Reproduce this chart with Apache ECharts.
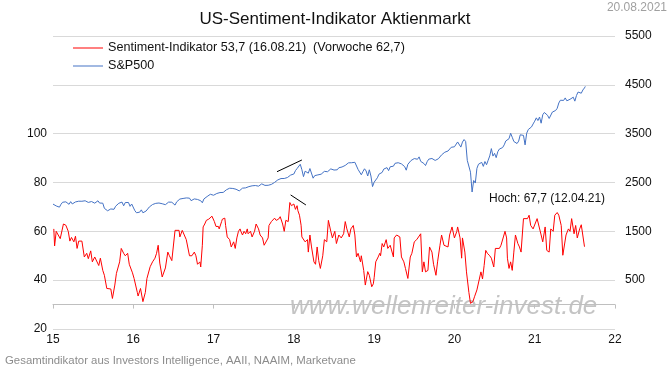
<!DOCTYPE html>
<html>
<head>
<meta charset="utf-8">
<script src="https://cdn.jsdelivr.net/npm/echarts@6/dist/echarts.min.js"></script>
<style>
  html, body { margin: 0; padding: 0; background: #fff; }
  #chart { width: 670px; height: 375px; }
</style>
</head>
<body>
<div id="chart"></div>
<script>
// Jahresachse: 15 ... 22
const yearTicks = [2015, 2016, 2017, 2018, 2019, 2020, 2021, 2022];

// Sentiment-Indikator (Wochenwerte) [Jahr, Wert]
const sentiment = [
  [2015.01,61],[2015.02,54],[2015.04,60],[2015.09,57],[2015.13,63],[2015.16,62.5],[2015.19,60],[2015.21,56],
  [2015.23,57.5],[2015.26,55.7],[2015.28,58],[2015.30,53],[2015.32,56],[2015.36,56],[2015.39,49.5],[2015.42,51],
  [2015.44,48.8],[2015.47,52],[2015.49,47.5],[2015.52,49.5],[2015.54,50.2],[2015.57,46],[2015.59,49],[2015.62,44],
  [2015.64,42],[2015.67,36.6],[2015.69,36],[2015.72,36.4],[2015.74,32.5],[2015.77,38],[2015.79,42.8],[2015.83,47.5],
  [2015.85,53],[2015.88,51],[2015.90,50],[2015.93,51],[2015.95,46.5],[2015.99,43],[2016.01,40.7],[2016.05,35],
  [2016.06,33.5],[2016.09,36.6],[2016.12,31.2],[2016.15,35],[2016.17,40.7],[2016.21,45.5],[2016.24,47.5],[2016.27,49],
  [2016.29,51],[2016.31,54.3],[2016.33,47],[2016.36,41.3],[2016.38,41.8],[2016.40,45],[2016.43,51.5],[2016.45,50],
  [2016.48,48],[2016.50,48.8],[2016.52,60.4],[2016.54,60],[2016.57,60.4],[2016.58,57.7],[2016.61,60.4],[2016.63,61],
  [2016.66,56.6],[2016.68,56],[2016.70,50],[2016.73,50],[2016.76,51.5],[2016.78,50],[2016.80,46.5],[2016.81,46],
  [2016.83,47.5],[2016.84,45.4],[2016.86,54.3],[2016.87,61.8],[2016.89,63],[2016.91,64.5],[2016.94,65],[2016.96,65.8],
  [2016.98,66.2],[2017.01,64],[2017.03,62],[2017.06,62],[2017.07,61],[2017.10,64],[2017.11,65],[2017.14,65.4],
  [2017.15,62.4],[2017.17,57.7],[2017.20,56.6],[2017.22,53.6],[2017.25,55.7],[2017.27,53],[2017.29,57.3],[2017.31,60],
  [2017.33,61],[2017.34,60],[2017.36,58.5],[2017.38,60],[2017.40,59],[2017.42,61],[2017.43,59],[2017.46,60],
  [2017.48,57.7],[2017.51,60],[2017.53,63],[2017.56,61],[2017.58,58.5],[2017.61,57.3],[2017.63,54.3],[2017.65,53.6],
  [2017.68,57.3],[2017.69,62.4],[2017.72,64],[2017.74,64.5],[2017.76,65.4],[2017.78,64.5],[2017.81,65],[2017.83,66],
  [2017.86,63],[2017.88,60],[2017.90,64.5],[2017.93,64],[2017.95,71.8],[2017.97,70.5],[2018.00,71.2],[2018.02,69],
  [2018.04,70.5],[2018.05,68.5],[2018.07,66.6],[2018.09,62.5],[2018.10,57.7],[2018.12,57.3],[2018.14,55.7],[2018.17,56.6],
  [2018.18,51.5],[2018.20,58.5],[2018.22,53.6],[2018.25,47.5],[2018.27,46.5],[2018.29,53.6],[2018.31,48],[2018.33,44.8],
  [2018.36,50],[2018.38,56.6],[2018.41,55.7],[2018.43,64.5],[2018.46,60],[2018.48,57.3],[2018.51,60],[2018.53,55],
  [2018.56,58.5],[2018.59,57.3],[2018.62,59],[2018.64,64],[2018.66,61],[2018.69,57.7],[2018.71,61],[2018.74,62.4],
  [2018.76,58.5],[2018.78,49.5],[2018.80,51],[2018.83,47.5],[2018.84,50],[2018.87,44],[2018.89,38],[2018.92,43.5],
  [2018.94,42],[2018.97,37.3],[2018.99,38.5],[2019.00,41],[2019.02,47.5],[2019.05,49.5],[2019.07,51],[2019.08,50],
  [2019.10,55],[2019.12,53.6],[2019.15,56.6],[2019.17,53],[2019.20,54.3],[2019.22,53.6],[2019.24,49.5],[2019.25,57.3],
  [2019.28,58.5],[2019.30,59],[2019.32,57.7],[2019.34,49.5],[2019.37,47.5],[2019.39,44.8],[2019.42,40.7],[2019.45,49.5],
  [2019.47,51],[2019.49,51],[2019.50,55.7],[2019.53,56.6],[2019.55,57.3],[2019.58,59],[2019.60,43.4],[2019.62,47.5],
  [2019.64,43.4],[2019.67,44],[2019.69,53.6],[2019.72,51.5],[2019.74,46.5],[2019.77,42],[2019.79,47.5],[2019.82,54.3],
  [2019.84,58.5],[2019.87,54.3],[2019.89,55],[2019.92,53.6],[2019.94,58.5],[2019.97,61.8],[2019.98,61],[2020.00,57.3],
  [2020.03,60],[2020.04,61.8],[2020.07,57.3],[2020.09,49],[2020.10,57.3],[2020.13,51.5],[2020.15,43.4],[2020.18,35],
  [2020.20,30.5],[2020.23,31.2],[2020.25,33.2],[2020.28,36],[2020.30,36.6],[2020.33,43.4],[2020.35,40.5],[2020.37,46],
  [2020.39,52.2],[2020.41,51],[2020.44,50],[2020.46,49],[2020.49,45.4],[2020.51,53],[2020.53,53.6],[2020.56,53],
  [2020.58,54.3],[2020.61,57.7],[2020.63,60],[2020.65,57.3],[2020.66,49],[2020.68,44.8],[2020.70,47.5],[2020.72,44],
  [2020.74,51.5],[2020.76,58.5],[2020.79,55],[2020.81,53.6],[2020.83,51.5],[2020.86,65.2],[2020.88,66],[2020.91,65.2],
  [2020.93,66.6],[2020.95,62.4],[2020.98,61],[2021.00,61.8],[2021.03,65.2],[2021.05,65.2],[2021.08,58.5],[2021.10,55.7],
  [2021.13,61.8],[2021.15,52.2],[2021.18,51.5],[2021.20,61],[2021.23,60],[2021.25,66.6],[2021.28,67.7],[2021.30,66.6],
  [2021.33,62.4],[2021.35,50.2],[2021.37,49.5],[2021.39,58.5],[2021.42,61],[2021.44,60],[2021.46,65.2],[2021.49,59],
  [2021.51,62.4],[2021.53,57.3],[2021.56,61],[2021.58,62.7],[2021.62,53.7]
];

// S&P500 [Jahr, Punkte]
const sp500 = [
  [2015.00,2058],[2015.02,2045],[2015.04,2020],[2015.06,2057],[2015.08,1995],[2015.10,2055],[2015.12,2096],[2015.14,2110],
  [2015.16,2104],[2015.18,2071],[2015.20,2053],[2015.22,2108],[2015.24,2061],[2015.26,2067],[2015.28,2102],[2015.30,2081],
  [2015.32,2117],[2015.34,2108],[2015.36,2116],[2015.38,2122],[2015.40,2126],[2015.42,2107],[2015.44,2092],[2015.46,2094],
  [2015.48,2110],[2015.50,2101],[2015.52,2077],[2015.54,2076],[2015.56,2126],[2015.58,2079],[2015.60,2092],[2015.62,2077],
  [2015.64,1971],[2015.66,1989],[2015.68,1921],[2015.70,1961],[2015.72,1958],[2015.74,1931],[2015.76,1951],[2015.78,2014],
  [2015.80,2033],[2015.82,2075],[2015.84,2079],[2015.86,2099],[2015.88,2023],[2015.90,2089],[2015.92,2090],[2015.94,2091],
  [2015.96,2012],[2015.98,2060],[2016.00,2044],
  [2016.02,1922],[2016.04,1880],[2016.06,1906],[2016.08,1893],[2016.10,1940],[2016.12,1880],[2016.14,1864],[2016.16,1917],
  [2016.18,1948],[2016.20,1999],[2016.22,2022],[2016.24,2049],[2016.26,2035],[2016.28,2073],[2016.30,2047],[2016.32,2080],
  [2016.34,2092],[2016.36,2065],[2016.38,2057],[2016.40,2046],[2016.42,2052],[2016.44,2099],[2016.46,2096],[2016.48,2096],
  [2016.50,2071],[2016.52,2037],[2016.54,2103],[2016.56,2130],[2016.58,2161],[2016.60,2175],[2016.62,2173],[2016.64,2182],
  [2016.66,2184],[2016.68,2169],[2016.70,2180],[2016.72,2128],[2016.74,2139],[2016.76,2164],[2016.78,2153],[2016.80,2153],
  [2016.82,2133],[2016.84,2126],[2016.86,2085],[2016.88,2164],[2016.90,2182],[2016.92,2213],[2016.94,2191],[2016.96,2259],
  [2016.98,2263],[2017.00,2239],
  [2017.02,2277],[2017.04,2275],[2017.06,2271],[2017.08,2294],[2017.10,2297],[2017.12,2297],[2017.14,2316],[2017.16,2351],
  [2017.18,2367],[2017.20,2383],[2017.22,2373],[2017.24,2378],[2017.26,2344],[2017.28,2362],[2017.30,2356],[2017.32,2328],
  [2017.34,2349],[2017.36,2384],[2017.38,2399],[2017.40,2390],[2017.42,2381],[2017.44,2416],[2017.46,2439],[2017.48,2432],
  [2017.50,2433],[2017.52,2438],[2017.54,2423],[2017.56,2425],[2017.58,2459],[2017.60,2472],[2017.62,2476],[2017.64,2441],
  [2017.66,2426],[2017.68,2443],[2017.70,2477],[2017.72,2461],[2017.74,2500],[2017.76,2502],[2017.78,2519],[2017.80,2553],
  [2017.82,2575],[2017.84,2581],[2017.86,2587],[2017.88,2582],[2017.90,2579],[2017.92,2602],[2017.94,2642],[2017.96,2652],
  [2017.98,2675],[2018.00,2674],
  [2018.02,2743],[2018.04,2786],[2018.06,2810],[2018.08,2873],[2018.10,2762],[2018.12,2620],[2018.14,2732],[2018.16,2747],
  [2018.18,2691],[2018.20,2786],[2018.22,2752],[2018.24,2588],[2018.26,2641],[2018.28,2604],[2018.30,2656],[2018.32,2670],
  [2018.34,2670],[2018.36,2663],[2018.38,2728],[2018.40,2713],[2018.42,2721],[2018.44,2735],[2018.46,2779],[2018.48,2780],
  [2018.50,2755],[2018.52,2718],[2018.54,2760],[2018.56,2802],[2018.58,2801],[2018.60,2818],[2018.62,2834],[2018.64,2850],
  [2018.66,2875],[2018.68,2902],[2018.70,2872],[2018.72,2905],[2018.74,2930],[2018.76,2914],[2018.78,2885],[2018.80,2767],
  [2018.82,2768],[2018.84,2658],[2018.86,2723],[2018.88,2781],[2018.90,2736],[2018.92,2633],[2018.94,2760],[2018.96,2633],
  [2018.98,2416],[2019.00,2507],
  [2019.02,2532],[2019.04,2596],[2019.06,2670],[2019.08,2665],[2019.10,2707],[2019.12,2775],[2019.14,2792],[2019.16,2804],
  [2019.18,2743],[2019.20,2822],[2019.22,2800],[2019.24,2834],[2019.26,2893],[2019.28,2907],[2019.30,2905],[2019.32,2940],
  [2019.34,2881],[2019.36,2859],[2019.38,2826],[2019.40,2752],[2019.42,2873],[2019.44,2886],[2019.46,2951],[2019.48,2941],
  [2019.50,2990],[2019.52,3014],[2019.54,2976],[2019.56,3025],[2019.58,2932],[2019.60,2918],[2019.62,2889],[2019.64,2847],
  [2019.66,2926],[2019.68,2978],[2019.70,3007],[2019.72,2992],[2019.74,2977],[2019.76,2952],[2019.78,2970],[2019.80,2986],
  [2019.82,3022],[2019.84,3066],[2019.86,3093],[2019.88,3120],[2019.90,3110],[2019.92,3145],[2019.94,3169],[2019.96,3221],
  [2019.98,3240],[2020.00,3231],
  [2020.02,3265],[2020.04,3330],[2020.06,3295],[2020.08,3225],[2020.10,3328],[2020.12,3380],[2020.14,3338],[2020.16,2954],
  [2020.18,2972],[2020.20,2711],[2020.22,2305],[2020.24,2541],[2020.26,2489],[2020.28,2790],[2020.30,2875],[2020.32,2837],
  [2020.34,2912],[2020.36,2830],[2020.38,2930],[2020.40,2864],[2020.42,2955],[2020.44,3044],[2020.46,3194],[2020.48,3041],
  [2020.50,3098],[2020.52,3009],[2020.54,3130],[2020.56,3185],[2020.58,3224],[2020.60,3215],[2020.62,3271],[2020.64,3351],
  [2020.66,3373],[2020.68,3397],[2020.70,3508],[2020.72,3427],[2020.74,3340],[2020.76,3319],[2020.78,3298],[2020.80,3348],
  [2020.82,3477],[2020.84,3483],[2020.86,3465],[2020.88,3270],[2020.90,3509],[2020.92,3585],[2020.94,3557],[2020.96,3638],
  [2020.98,3699],[2021.00,3756],
  [2021.02,3824],[2021.04,3768],[2021.06,3841],[2021.08,3714],[2021.10,3887],[2021.12,3934],[2021.14,3907],[2021.16,3876],
  [2021.18,3811],[2021.20,3842],[2021.22,3943],[2021.24,3913],[2021.26,3974],[2021.28,4019],[2021.30,4128],[2021.32,4185],
  [2021.34,4180],[2021.36,4181],[2021.38,4232],[2021.40,4173],[2021.42,4156],[2021.44,4204],[2021.46,4230],[2021.48,4247],
  [2021.50,4166],[2021.52,4281],[2021.54,4352],[2021.56,4369],[2021.58,4328],[2021.60,4395],[2021.62,4437],[2021.63,4468]
];

// Trendlinien (Divergenz Anfang 2018)
const trendSp = [[2017.79, 2721], [2018.10, 2961]];
const trendSent = [[2017.96, 74.9], [2018.15, 70.8]];

const chart = echarts.init(document.getElementById('chart'));
const font = 'Liberation Sans, Arial, sans-serif';

const option = {
  animation: false,
  textStyle: { fontFamily: font },
  grid: { left: 53, right: 55, top: 36, bottom: 46 },
  legend: {
    orient: 'vertical',
    left: 68,
    top: 36,
    icon: 'rect',
    itemWidth: 30,
    itemHeight: 1,
    itemGap: 4,
    data: ['Sentiment-Indikator 53,7 (16.08.21)  (Vorwoche 62,7)', 'S&P500'],
    textStyle: { fontSize: 12.6, color: '#111', fontFamily: font, lineHeight: 14 }
  },
  xAxis: {
    type: 'value',
    min: yearTicks[0],
    max: yearTicks[yearTicks.length - 1],
    interval: 1,
    splitLine: { show: false },
    axisLine: { lineStyle: { color: '#bfbfbf' } },
    axisTick: { show: true, length: 4, lineStyle: { color: '#bfbfbf' } },
    axisLabel: { color: '#111', fontSize: 12, margin: 5, formatter: v => String(v - 2000) }
  },
  yAxis: [{
    type: 'value',
    min: 20,
    max: 140,
    interval: 20,
    axisLine: { show: false },
    axisTick: { show: false },
    splitLine: { lineStyle: { color: '#d9d9d9' } },
    axisLabel: { color: '#111', fontSize: 12, margin: 6, formatter: v => (v <= 100 ? String(v) : '') }
  }, {
    type: 'value',
    min: -500,
    max: 5500,
    interval: 1000,
    position: 'right',
    axisLine: { show: false },
    axisTick: { show: false },
    splitLine: { show: false },
    axisLabel: { color: '#111', fontSize: 12, margin: 10, formatter: v => (v > 0 ? String(v) : '') }
  }],
  series: [{
    name: 'Sentiment-Indikator 53,7 (16.08.21)  (Vorwoche 62,7)',
    type: 'line',
    yAxisIndex: 0,
    data: sentiment,
    symbol: 'none',
    lineStyle: { color: '#ff0000', width: 1 },
    itemStyle: { color: '#ff0000' }
  }, {
    name: 'S&P500',
    type: 'line',
    yAxisIndex: 1,
    data: sp500,
    symbol: 'none',
    lineStyle: { color: '#4472c4', width: 1 },
    itemStyle: { color: '#4472c4' }
  }, {
    name: 'trendSp',
    type: 'line',
    yAxisIndex: 1,
    data: trendSp,
    symbol: 'none',
    lineStyle: { color: '#000', width: 1 }
  }, {
    name: 'trendSent',
    type: 'line',
    yAxisIndex: 0,
    data: trendSent,
    symbol: 'none',
    lineStyle: { color: '#000', width: 1 }
  }],
  graphic: [{
    type: 'text', left: 'center', top: 11,
    style: { text: 'US-Sentiment-Indikator Aktienmarkt', font: '17px ' + font, fill: '#111' }
  }, {
    type: 'text', right: 3, top: 2,
    style: { text: '20.08.2021', font: '12px ' + font, fill: '#a0a0a0' }
  }, {
    type: 'text', left: 489, top: 193,
    style: { text: 'Hoch: 67,7 (12.04.21)', font: '12px ' + font, fill: '#111' }
  }, {
    type: 'text', left: 290, top: 294,
    style: { text: 'www.wellenreiter-invest.de', font: 'italic 26px ' + font, fill: '#c4c4c4' }
  }, {
    type: 'text', left: 5, top: 355,
    style: { text: 'Gesamtindikator aus Investors Intelligence, AAII, NAAIM, Marketvane', font: '11.4px ' + font, fill: '#8c8c8c' }
  }]
};

chart.setOption(option);
window.addEventListener('resize', () => chart.resize());
</script>
</body>
</html>
